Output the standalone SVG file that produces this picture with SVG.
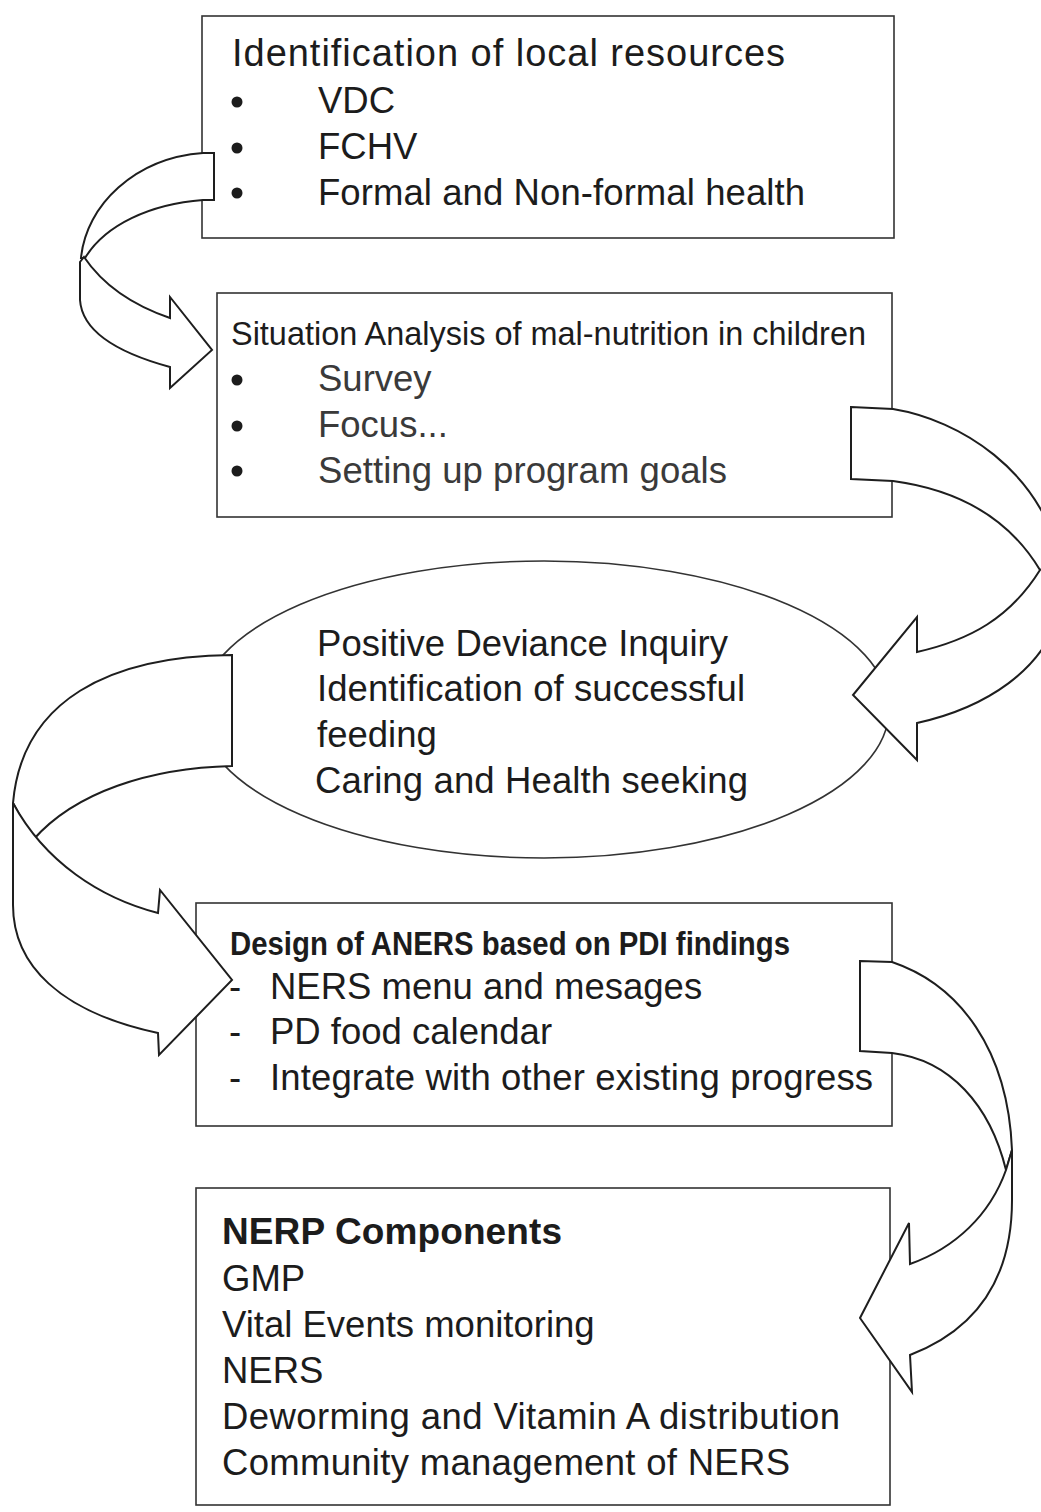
<svg xmlns="http://www.w3.org/2000/svg" width="1041" height="1512" viewBox="0 0 1041 1512">
<style>
.box{fill:#fff;stroke:#333;stroke-width:1.6}
.t{font-family:"Liberation Sans",Arial,sans-serif;fill:#1c1c1c}
.h1{font-size:38px}
.it{font-size:36.5px}
.lt{fill:#3a3a3a}
.b{font-weight:bold}
.arr{fill:#fff;stroke:#1e1e1e;stroke-width:2;stroke-linejoin:miter}
.bul{fill:#1c1c1c}
</style>
<rect width="1041" height="1512" fill="#fff"/>

<g id="node-resources">
<rect class="box" x="202" y="16" width="692" height="222"/>
<text class="t h1" x="232" y="66" textLength="553">Identification of local resources</text>
<circle class="bul" cx="237" cy="102" r="5.5"/>
<circle class="bul" cx="237" cy="148" r="5.5"/>
<circle class="bul" cx="237" cy="193" r="5.5"/>
<text class="t it" x="318" y="113">VDC</text>
<text class="t it" x="318" y="159">FCHV</text>
<text class="t it" x="318" y="205" textLength="487">Formal and Non-formal health</text>
</g>

<g id="node-situation">
<rect class="box" x="217" y="293" width="675" height="224"/>
<text class="t" font-size="33" x="231" y="345" textLength="635" lengthAdjust="spacingAndGlyphs">Situation Analysis of mal-nutrition in children</text>
<circle class="bul" cx="237" cy="380" r="5.5"/>
<circle class="bul" cx="237" cy="426" r="5.5"/>
<circle class="bul" cx="237" cy="471" r="5.5"/>
<text class="t it lt" x="318" y="391">Survey</text>
<text class="t it lt" x="318" y="437">Focus...</text>
<text class="t it lt" x="318" y="483" textLength="409">Setting up program goals</text>
</g>

<g id="node-pdi">
<ellipse class="box" cx="544" cy="709.5" rx="345" ry="148.5"/>
<text class="t it" x="317" y="656" textLength="411">Positive Deviance Inquiry</text>
<text class="t it" x="317" y="701" textLength="428">Identification of successful</text>
<text class="t it" x="317" y="747">feeding</text>
<text class="t it" x="315" y="793" textLength="433">Caring and Health seeking</text>
</g>

<g id="node-design">
<rect class="box" x="196" y="903" width="696" height="223"/>
<text class="t b" font-size="33" x="230" y="955" textLength="560" lengthAdjust="spacingAndGlyphs">Design of ANERS based on PDI findings</text>
<text class="t it" x="229" y="999">-</text>
<text class="t it" x="270" y="999">NERS menu and mesages</text>
<text class="t it" x="229" y="1044">-</text>
<text class="t it" x="270" y="1044">PD food calendar</text>
<text class="t it" x="229" y="1090">-</text>
<text class="t it" x="270" y="1090" textLength="603">Integrate with other existing progress</text>
</g>

<g id="node-nerp">
<rect class="box" x="196" y="1188" width="694" height="317"/>
<text class="t b" font-size="37" x="222" y="1244" textLength="340">NERP Components</text>
<text class="t it" x="222" y="1291">GMP</text>
<text class="t it" x="222" y="1337">Vital Events monitoring</text>
<text class="t it" x="222" y="1383">NERS</text>
<text class="t it" x="222" y="1429" textLength="618">Deworming and Vitamin A distribution</text>
<text class="t it" x="222" y="1475" textLength="568">Community management of NERS</text>
</g>

<g id="connectors">
<!-- arrow 1: resources -> situation -->
<path class="arr" d="M 214,153 L 214,200 L 203,200 C 150,204 105,225 85,258 L 81,258 C 86,205 135,158 203,153 Z"/>
<path class="arr" d="M 84,257 C 105,288 135,306 170,318 L 170,297 L 212,350 L 170,388 L 170,367 C 115,352 82,330 80,300 L 80,262 Z"/>
<!-- arrow 2: situation -> pdi -->
<path class="arr" d="M 851,407 L 893,409 C 960,420 1040,470 1060,560 L 1040,570 C 1010,520 960,490 893,481 L 851,479 Z"/>
<path class="arr" d="M 1040,570 C 1010,618 970,640 917,652 L 917,617 L 853,695 L 917,760 L 917,723 C 985,708 1045,670 1060,610 L 1060,560 Z"/>
<!-- arrow 3: pdi -> design -->
<path class="arr" d="M 232,655 L 232,766 C 150,768 75,792 33,840 L 13,803 C 22,700 110,656 232,655 Z"/>
<path class="arr" d="M 13,803 C 45,862 100,898 158,913 L 160,890 L 232,980 L 159,1055 L 158,1033 C 60,1012 13,965 13,905 Z"/>
<!-- arrow 4: design -> nerp -->
<path class="arr" d="M 860,961 L 892,962 C 960,985 1008,1050 1012,1150 L 1006,1170 C 990,1105 950,1060 892,1053 L 860,1051 Z"/>
<path class="arr" d="M 1006,1170 C 990,1215 955,1248 910,1264 L 909,1223 L 860,1318 L 912,1392 L 910,1355 C 975,1330 1012,1280 1012,1200 L 1012,1150 Z"/>
</g>
</svg>
